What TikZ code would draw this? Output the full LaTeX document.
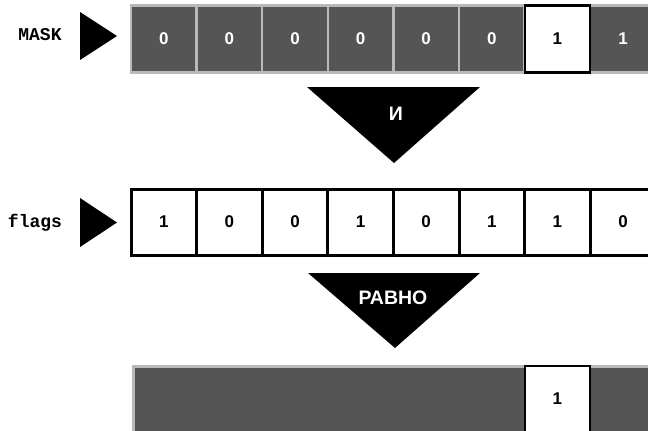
\documentclass[tikz,border=0pt]{standalone}
\usepackage{fontspec}
\setmainfont{Liberation Sans}
\setmonofont{Liberation Mono}
\definecolor{cellgray}{RGB}{85,85,85}
\definecolor{seplight}{RGB}{185,185,185}
\begin{document}
\begin{tikzpicture}[x=1pt,y=-1pt,
  maskcell/.style={draw=seplight, fill=cellgray, line width=2.5pt, minimum width=65.6pt, minimum height=67pt, inner sep=0pt, text=white, font=\bfseries\fontsize{17}{17}\selectfont},
  hitcell/.style={draw=black, fill=white, line width=2.2pt, minimum width=65.6pt, minimum height=67pt, inner sep=0pt, text=black, font=\bfseries\fontsize{17}{17}\selectfont},
  flagcell/.style={draw=black, fill=white, line width=3pt, minimum width=65.6pt, minimum height=66pt, inner sep=0pt, text=black, font=\bfseries\fontsize{17}{17}\selectfont},
  pointer/.style={fill=black},
  oplabel/.style={text=white, font=\bfseries\fontsize{19.5}{19.5}\selectfont, inner sep=0pt},
  rowlabel/.style={font=\ttfamily\bfseries\fontsize{18}{18}\selectfont, inner sep=0pt}]
\useasboundingbox (0,0) rectangle (648,431);
\clip (0,0) rectangle (648,431);
\fill[white] (0,0) rectangle (648,431);

% MASK row
\foreach \v [count=\i from 0] in {0,0,0,0,0,0,1,1} {
  \ifnum\i=6
  \else
    \node[maskcell] (m\i) at (163.8+65.6*\i,39) {\v};
  \fi
}
\node[hitcell] (m6) at (163.8+65.6*6,39) {1};

% flags row
\foreach \v [count=\i from 0] in {1,0,0,1,0,1,1,0} {
  \node[flagcell] (f\i) at (163.8+65.6*\i,222) {\v};
}

% result row
\node[draw=seplight, fill=cellgray, line width=2.5pt, minimum width=580pt, minimum height=76pt, inner sep=0pt, anchor=north west] (r) at (132,365) {};
\node[hitcell, minimum height=76pt, anchor=north] (r6) at (163.8+65.6*6,365) {};
\node[font=\bfseries\fontsize{17}{17}\selectfont] (r6t) at (163.8+65.6*6,399) {1};

% row labels and pointers
\node[rowlabel] (lmask) at (40,35) {MASK};
\fill[pointer] (80,12) -- (117,36) -- (80,60) -- cycle;
\node[rowlabel] (lflags) at (35,223) {flags};
\fill[pointer] (80,198) -- (117,222.5) -- (80,247) -- cycle;

% operators
\fill[pointer] (307,87) -- (480,87) -- (394,163) -- cycle;
\node[oplabel] (opand) at (396,114) {И};
\fill[pointer] (308,273) -- (480,273) -- (395,348) -- cycle;
\node[oplabel] (opeq) at (393,298) {РАВНО};
\end{tikzpicture}
\end{document}
